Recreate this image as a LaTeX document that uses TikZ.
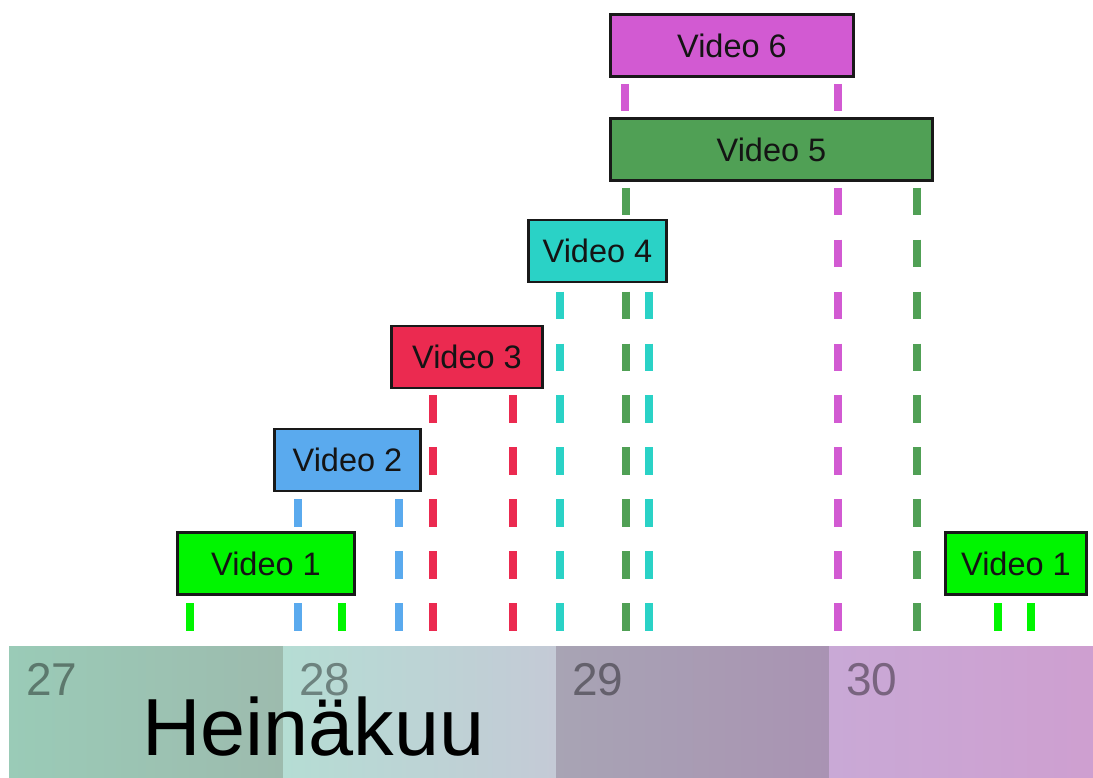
\documentclass[tikz,border=0pt]{standalone}
\usepackage{fontspec}
\setmainfont{Liberation Sans}
\usetikzlibrary{backgrounds}
\definecolor{cSix}{HTML}{D25AD2}
\definecolor{cFive}{HTML}{50A055}
\definecolor{cFour}{HTML}{2AD2C6}
\definecolor{cThree}{HTML}{EB2A50}
\definecolor{cTwo}{HTML}{5AAAEE}
\definecolor{cOne}{HTML}{00F500}
\definecolor{sAl}{HTML}{9ACBB7}
\definecolor{sAr}{HTML}{9DBBAE}
\definecolor{sBl}{HTML}{B5DDD4}
\definecolor{sBr}{HTML}{C4CAD6}
\definecolor{sCl}{HTML}{A8A4B4}
\definecolor{sCr}{HTML}{A993B3}
\definecolor{sDl}{HTML}{C9A9D6}
\definecolor{sDr}{HTML}{CE9FD0}
\begin{document}
\begin{tikzpicture}[x=1pt,y=-1pt,
  vbox/.style={draw=black!90, line width=2.8pt, minimum height=62pt, inner sep=0pt,
               font=\fontsize{32.5}{39}\selectfont, text=black!92},
  tick/.style={line width=8pt, line cap=butt, dash pattern=on 27.5pt off 24.4pt},
  day/.style={anchor=base west, inner sep=0pt, font=\fontsize{46}{55}\selectfont,
              text=black, text opacity=0.4},
]
\useasboundingbox (0,0) rectangle (1093,778);

% timeline bar
\shade[left color=sAl, right color=sAr] (9,646) rectangle (283,778);
\shade[left color=sBl, right color=sBr] (283,646) rectangle (556,778);
\shade[left color=sCl, right color=sCr] (556,646) rectangle (829,778);
\shade[left color=sDl, right color=sDr] (829,646) rectangle (1093,778);
\coordinate (bar) at (0,646);

\node[day] (d27) at (26,695) {27};
\node[day] (d28) at (299,695) {28};
\node[day] (d29) at (572,695) {29};
\node[day] (d30) at (846,695) {30};
\node[anchor=base west, inner sep=0pt, font=\fontsize{81}{97}\selectfont] (month) at (142,755) {Heinäkuu};

% boxes
\node[vbox, fill=cSix,   minimum width=243.2pt] (v6) at (732,45.5) {Video 6};
\node[vbox, fill=cFive,  minimum width=322.2pt] (v5) at (771.5,149.5) {Video 5};
\node[vbox, fill=cFour,  minimum width=138.2pt] (v4) at (597.5,251) {Video 4};
\node[vbox, fill=cThree, minimum width=151.2pt] (v3) at (467,357) {Video 3};
\node[vbox, fill=cTwo,   minimum width=146.2pt] (v2) at (347.5,460) {Video 2};
\node[vbox, fill=cOne,   minimum width=177.2pt] (v1) at (266,563.5) {Video 1};
\node[vbox, fill=cOne,   minimum width=141.2pt] (v1b) at (1016,563.5) {Video 1};

% dashed markers
\coordinate (m6a) at (625,84);
\coordinate (m6b) at (838,84);
\coordinate (m5a) at (626,187.8);
\coordinate (m5b) at (917,187.8);
\coordinate (m4a) at (560,291.6);
\coordinate (m4b) at (649,291.6);
\coordinate (m3a) at (433,395.4);
\coordinate (m3b) at (513,395.4);
\coordinate (m2a) at (298,499.2);
\coordinate (m2b) at (399,499.2);
\coordinate (m1a) at (190,603);
\coordinate (m1b) at (342,603);
\coordinate (m1c) at (998,603);
\coordinate (m1d) at (1031,603);

\begin{scope}[on background layer]
\fill[white] (0,0) rectangle (1093,640);
\draw[tick, cSix] (m6a) -- (m6a |- v5.north);
\draw[tick, cSix] (m6b) -- (m6b |- bar);
\draw[tick, cFive] (m5a) -- (m5a |- bar);
\draw[tick, cFive] (m5b) -- (m5b |- bar);
\draw[tick, cFour] (m4a) -- (m4a |- bar);
\draw[tick, cFour] (m4b) -- (m4b |- bar);
\draw[tick, cThree] (m3a) -- (m3a |- bar);
\draw[tick, cThree] (m3b) -- (m3b |- bar);
\draw[tick, cTwo] (m2a) -- (m2a |- bar);
\draw[tick, cTwo] (m2b) -- (m2b |- bar);
\draw[tick, cOne] (m1a) -- (m1a |- bar);
\draw[tick, cOne] (m1b) -- (m1b |- bar);
\draw[tick, cOne] (m1c) -- (m1c |- bar);
\draw[tick, cOne] (m1d) -- (m1d |- bar);
\end{scope}
\end{tikzpicture}
\end{document}
